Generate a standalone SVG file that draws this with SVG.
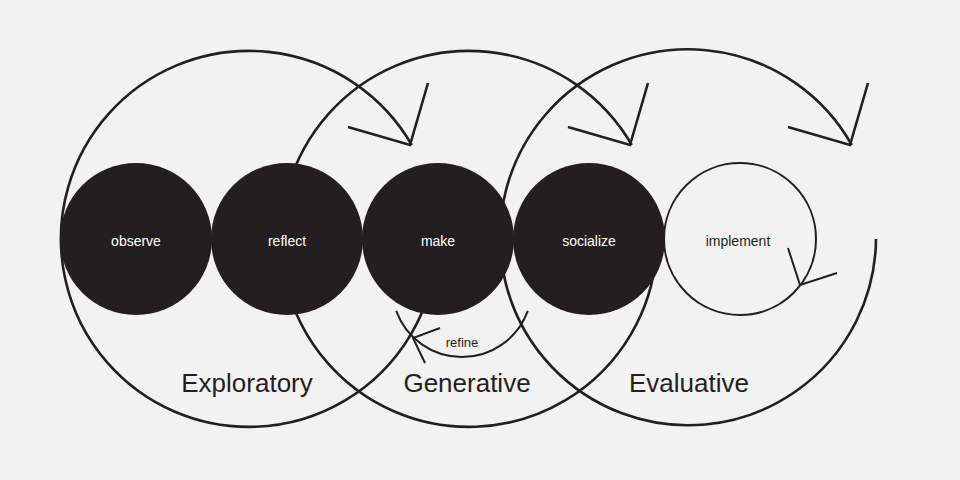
<svg xmlns="http://www.w3.org/2000/svg" width="960" height="480" viewBox="0 0 960 480">
<style>
.ln{fill:none;stroke:#231f20;stroke-width:2.6}
.th{fill:none;stroke:#231f20;stroke-width:2}
.dot{fill:#231f20}
.wt{fill:#fff;font-family:"Liberation Sans",Arial,sans-serif;font-size:14px;text-anchor:middle}
.dk{fill:#231f20;font-family:"Liberation Sans",Arial,sans-serif;font-size:14px;text-anchor:middle}
.big{fill:#231f20;font-family:"Liberation Sans",Arial,sans-serif;font-size:26px;text-anchor:middle}
</style>
<rect width="960" height="480" fill="#f2f2f2"/>
<g id="connectors">
<path class="ln" d="M436.2,255.4 A188,188 0 1 1 411.8,145"/>
<polyline class="ln" points="348,127 410,145 428,83"/>
<path class="ln" d="M656.2,255.4 A188,188 0 1 1 631.8,145"/>
<polyline class="ln" points="568,127 630,145 648,83"/>
<path class="ln" d="M876,239 A188,188 0 1 1 851.8,145"/>
<polyline class="ln" points="788,127 850,145 868,83"/>
<path class="th" d="M396.2,310.9 A70,70 0 0 0 527.8,310.9"/>
<polyline class="th" points="440,328 413,338 425,363"/>
<polyline class="th" points="788,248 800,285 837,273"/>
</g>
<g id="observe"><circle class="dot" cx="136" cy="239" r="76"/><text class="wt" x="136" y="246">observe</text></g>
<g id="reflect"><circle class="dot" cx="287" cy="239" r="76"/><text class="wt" x="287" y="246">reflect</text></g>
<g id="make"><circle class="dot" cx="438" cy="239" r="76"/><text class="wt" x="438" y="246">make</text></g>
<g id="socialize"><circle class="dot" cx="589" cy="239" r="76"/><text class="wt" x="589" y="246">socialize</text></g>
<g id="implement"><circle class="th" cx="740" cy="239" r="76"/><text class="dk" x="738" y="246">implement</text></g>
<text class="dk" x="462" y="347" style="font-size:13px">refine</text>
<text class="big" x="247" y="392">Exploratory</text>
<text class="big" x="467" y="392">Generative</text>
<text class="big" x="689" y="392">Evaluative</text>
</svg>
